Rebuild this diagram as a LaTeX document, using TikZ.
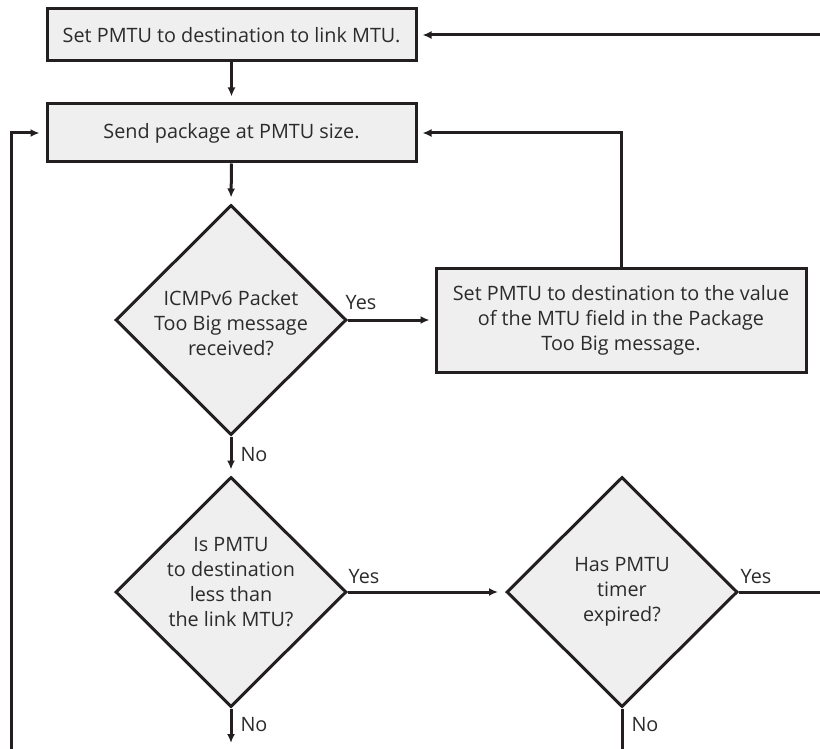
\documentclass[tikz,border=0pt]{standalone}
\usepackage{fontspec}
\setmainfont{Open Sans}
\usetikzlibrary{arrows.meta,shapes.geometric,calc}
\definecolor{ln}{HTML}{231F20}
\definecolor{bx}{HTML}{EFEFEF}
\definecolor{tx}{HTML}{2B2B2B}
\begin{document}
\begin{tikzpicture}[x=1pt,y=-1pt,
  font=\fontsize{19.8}{25}\selectfont, text=tx,
  proc/.style={draw=ln, fill=bx, line width=3pt, rectangle, align=center, inner sep=0pt},
  dia/.style={draw=ln, fill=bx, line width=3pt, diamond, minimum width=231pt, minimum height=230pt, inner sep=0pt},
  txt/.style={align=center, inner sep=0pt},
  conn/.style={draw=ln, line width=3pt},
  arr/.style={conn, -{Latex[length=9pt,width=8pt]}, shorten >=6pt},
  lbl/.style={inner sep=0pt}]
\useasboundingbox (0,0) rectangle (820,749);

% nodes
\node[proc, minimum width=369pt, minimum height=52pt] (top) at (231.5,35) {Set PMTU to destination to link MTU.};
\node[proc, minimum width=369pt, minimum height=58pt] (send) at (231.5,133) {Send package at PMTU size.};
\node[dia] (d1) at (231,320) {};
\node[txt] (d1t) at (231,323) {ICMPv6 Packet\\Too Big message\\received?};
\node[proc, minimum width=370pt, minimum height=104pt] (rbox) at (621,320) {Set PMTU to destination to the value\\of the MTU field in the Package\\Too Big message.};
\node[dia] (d2) at (231,592) {};
\node[txt] (d2t) at (231,582) {Is PMTU\\to destination\\less than\\the link MTU?};
\node[dia] (d3) at (622,592) {};
\node[txt] (d3t) at (622,592) {Has PMTU\\timer\\expired?};

% free ends
\coordinate (inTop) at (820,35);
\coordinate (outD3) at (820,592);
\coordinate (endD2) at (231,743);
\coordinate (endD3) at (622,749);
\coordinate (loopS) at (11,749);

% connectors
\draw[arr, shorten >=5pt] (inTop) -- (top.east);
\draw[arr] (top.south) -- (send.north);
\draw[arr] (send.south) -- (d1.north);
\draw[arr, shorten >=5pt] (d1.east) -- (rbox.west);
\draw[arr, shorten >=5pt] (rbox.north) |- (send.east);
\draw[arr] (d1.south) -- (d2.north);
\draw[arr, shorten >=7pt] (d2.east) -- (d3.west);
\draw[conn] (d3.east) -- (outD3);
\draw[arr, shorten >=0pt] (d2.south) -- (endD2);
\draw[conn] (d3.south) -- (endD3);
\draw[arr] (loopS) |- (send.west);

% labels
\node[lbl] (y1) at (361,303) {Yes};
\node[lbl] (n1) at (254,455) {No};
\node[lbl] (y2) at (364,577) {Yes};
\node[lbl] (y3) at (756,577) {Yes};
\node[lbl] (n2) at (254,725) {No};
\node[lbl] (n3) at (645,725) {No};
\end{tikzpicture}
\end{document}
